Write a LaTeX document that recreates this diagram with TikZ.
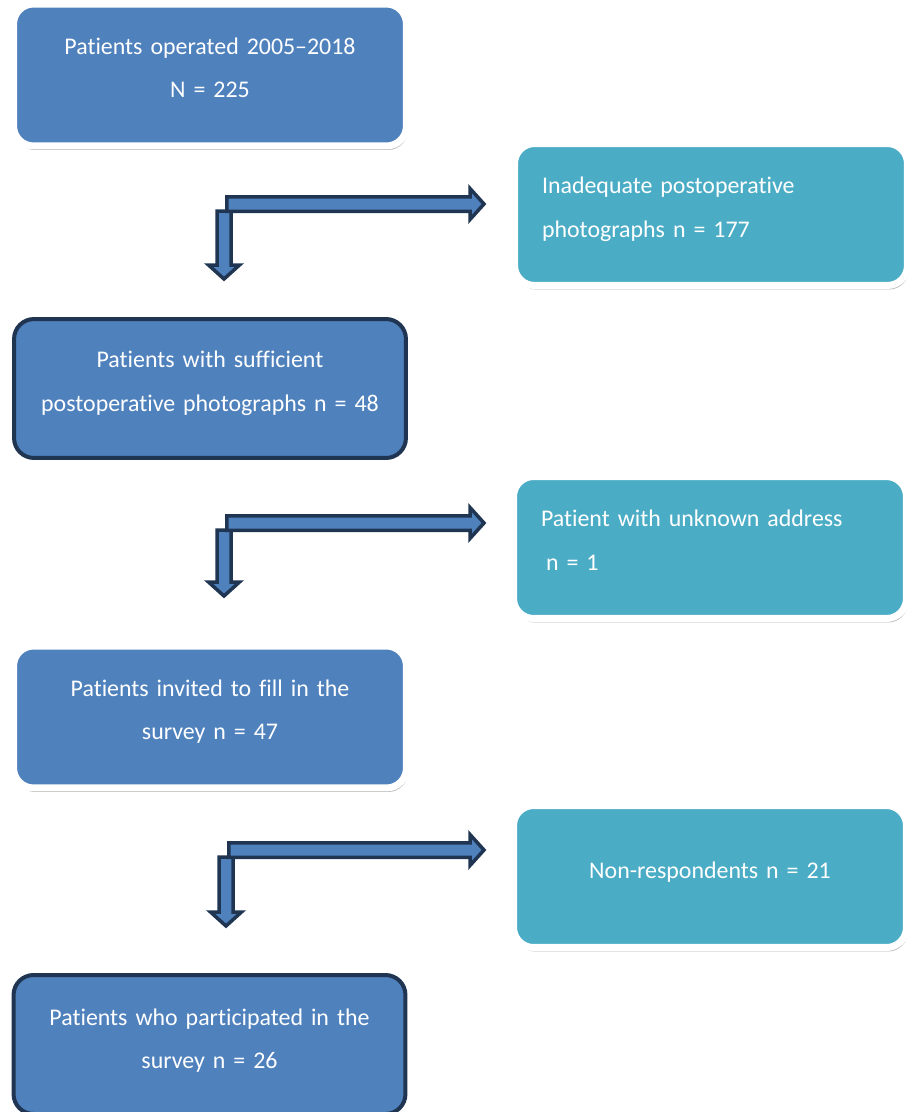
\documentclass[tikz,border=0pt]{standalone}
\usepackage{fontspec}
\setmainfont{Carlito}[Ligatures={TeX,NoCommon}]
\usetikzlibrary{shadows}
\definecolor{boxblue}{HTML}{4F81BD}
\definecolor{boxcyan}{HTML}{4BACC6}
\definecolor{navy}{HTML}{1F3552}
\tikzset{
  flowbox/.style={rectangle, rounded corners=0.4cm, text=white, inner sep=0pt,
    font=\fontsize{13.6}{25}\selectfont, text height=0.06cm, text depth=0.9cm},
  whitebox/.style={flowbox, draw=white, line width=0.14cm, minimum width=7.86cm, minimum height=2.84cm,
    drop shadow={shadow xshift=0.03cm, shadow yshift=-0.08cm, opacity=0.3, fill=black}},
  mainbox/.style={whitebox, fill=boxblue, text width=7.4cm, align=center},
  sidebox/.style={whitebox, fill=boxcyan, text width=6.76cm, align=left},
  keybox/.style={flowbox, fill=boxblue, draw=navy, line width=0.08cm, minimum width=7.84cm, minimum height=2.78cm,
    text width=7.4cm, align=center},
  blockarrow/.style={draw=navy, fill=boxblue, line width=0.07cm, line join=miter},
}
% elbow arrow: corner x, corner y, drop length
\newcommand{\elbowarrow}[3]{%
  \draw[blockarrow, shift={(#1,#2)}] (-7,7) -- (7,7) -- (7,#3-14) -- (15.5,#3-14) -- (0,#3) -- (-15.5,#3-14) -- (-7,#3-14) -- cycle;
  \draw[blockarrow, shift={(#1,#2)}] (2.75,-7.25) -- (470-#1,-7.25) -- (470-#1,-15.5) -- (484-#1,0) -- (470-#1,15.5) -- (470-#1,7.25) -- (2.75,7.25) -- cycle;
}
\begin{document}
\begin{tikzpicture}[x=0.02cm, y=-0.02cm]
    \clip (0,0) rectangle (917,1112);

    % main column
    \node[mainbox] (operated) at (210,75) {Patients operated 2005--2018\\N = 225};
    \node[keybox] (sufficient) at (210,388.5) {Patients with sufficient\\postoperative photographs n = 48};
    \node[mainbox] (invited) at (210,717) {Patients invited to fill in the\\survey n = 47};
    \node[keybox, text depth=0.84cm] (participated) at (209.5,1044.5) {Patients who participated in the\\survey n = 26};

    % excluded
    \node[sidebox] (inadequate) at (711,214.5) {Inadequate postoperative\\photographs n = 177};
    \node[sidebox] (unknown) at (710,547.5) {Patient with unknown address\\\hspace*{0.1cm}n = 1};
    \node[sidebox, align=center, text height=0.96cm] (nonresp) at (710,876.5) {Non-respondents n = 21};

    % arrows
    \elbowarrow{224}{204}{75}
    \elbowarrow{224}{523}{73}
    \elbowarrow{226}{850}{76}
\end{tikzpicture}
\end{document}
